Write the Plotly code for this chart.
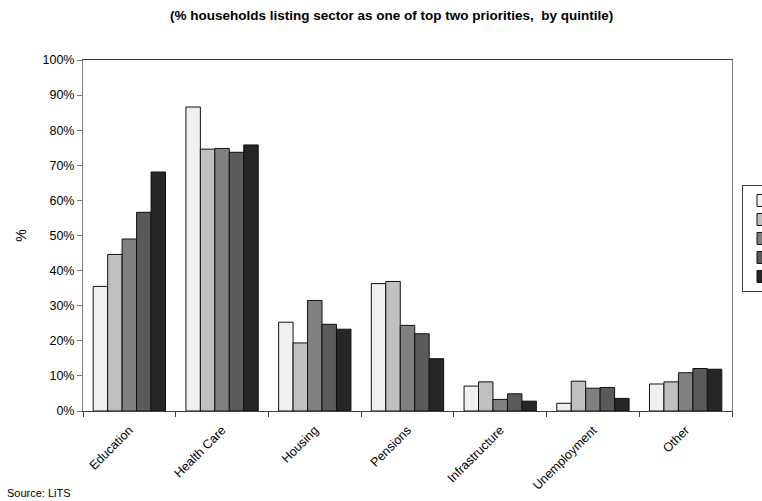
import plotly.graph_objects as go

categorias = ['Education', 'Health Care', 'Housing', 'Pensions',
              'Infrastructure', 'Unemployment', 'Other']

quintil_1 = [35.5, 86.6, 25.3, 36.3, 7.1, 2.2, 7.7]
quintil_2 = [44.6, 74.6, 19.4, 36.9, 8.3, 8.5, 8.3]
quintil_3 = [49.0, 74.8, 31.5, 24.4, 3.3, 6.5, 10.9]
quintil_4 = [56.6, 73.7, 24.7, 22.0, 4.9, 6.7, 12.1]
quintil_5 = [68.1, 75.8, 23.3, 14.9, 2.8, 3.6, 11.9]

nomes = ['1', '2', '3', '4', '5']
cores = ['#f0f0f0', '#c0c0c0', '#808080', '#5a5a5a', '#262626']

y_ticks = [0, 10, 20, 30, 40, 50, 60, 70, 80, 90, 100]
y_rotulos = [f'{v}%' for v in y_ticks]

fig = go.Figure()
for nome, valores, cor in zip(nomes, [quintil_1, quintil_2, quintil_3, quintil_4, quintil_5], cores):
    fig.add_trace(go.Bar(
        x=categorias,
        y=valores,
        name=nome,
        marker=dict(color=cor, line=dict(color='#111111', width=1)),
    ))

# area do grafico: x 83..732, y 60..411 (pixels da pagina)
fig.update_layout(
    width=762,
    height=501,
    barmode='group',
    bargap=0.22,
    bargroupgap=0,
    plot_bgcolor='white',
    paper_bgcolor='white',
    font=dict(family='Liberation Sans, Arial', size=12, color='black'),
    margin=dict(l=83, r=30, t=60, b=90, autoexpand=False),
    title=dict(
        text='<b>(% households listing sector as one of top two priorities,  by quintile)</b>',
        x=0.514, xanchor='center', y=0.97, yanchor='middle',
        font=dict(size=13.5),
    ),
    legend=dict(
        x=1.0154, xanchor='left', y=0.644, yanchor='top',
        bordercolor='#404040', borderwidth=1, bgcolor='white',
        font=dict(size=10), tracegroupgap=0,
    ),
    yaxis=dict(
        range=[0, 100],
        tickvals=y_ticks,
        ticktext=y_rotulos,
        tickfont=dict(size=12.5, color='black'),
        showgrid=False,
        showline=True, linecolor='#808080', linewidth=1, mirror=True,
        ticks='outside', ticklen=5, tickcolor='#808080',
        title=dict(text='%', standoff=12),
        zeroline=False,
    ),
    xaxis=dict(
        showgrid=False,
        showline=True, linecolor='#404040', linewidth=1, mirror=True,
        ticks='outside', ticklen=5, tickcolor='#404040',
        tickson='boundaries',
        tickangle=-45,
        tickfont=dict(size=12.5, color='black'),
        ticklabelstandoff=6,
    ),
    annotations=[dict(
        text='Source: LiTS', x=-78 / 649, y=-(493 - 411) / 351,
        xref='paper', yref='paper',
        xanchor='left', yanchor='middle', showarrow=False, font=dict(size=11),
    )],
)

# tira a margem padrao do body para a figura ocupar a janela toda
fig.write_html('out.html', config={'displayModeBar': False},
               post_script="document.body.style.margin='0px';")
